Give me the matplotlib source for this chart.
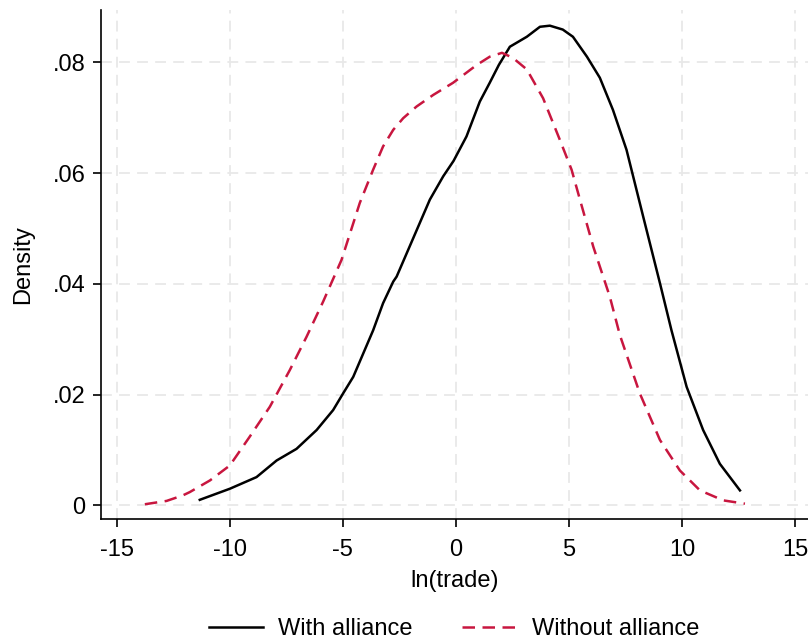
import matplotlib
matplotlib.use("Agg")
import numpy as np
from matplotlib import pyplot as plt

plt.rcParams['font.family'] = ['Liberation Sans', 'DejaVu Sans']
plt.rcParams['axes.unicode_minus'] = False

# kernel density curves
with_x = [-11.33, -10.0, -8.82, -7.93, -7.05, -6.16, -5.43, -4.99, -4.54, -4.10, -3.66,
          -3.22, -2.77, -2.62, -1.89, -1.15, -0.56, -0.1, 0.47, 1.06, 1.5, 1.9, 2.39,
          3.14, 3.72, 4.16, 4.73, 5.18, 5.8, 6.37, 6.95, 7.55, 8.29, 9.03, 9.54, 10.21,
          10.94, 11.68, 12.57]
with_y = [0.0010, 0.0030, 0.0051, 0.0081, 0.0102, 0.0136, 0.0172, 0.0202, 0.0232, 0.0274,
          0.0316, 0.0365, 0.0404, 0.0413, 0.0482, 0.0552, 0.0594, 0.0622, 0.0666, 0.0729,
          0.0763, 0.0795, 0.0828, 0.0846, 0.0864, 0.0866, 0.0859, 0.0846, 0.0810, 0.0772,
          0.0714, 0.0642, 0.0521, 0.0401, 0.0316, 0.0214, 0.0136, 0.0075, 0.0027]

without_x = [-13.76, -12.8, -12.08, -11.77, -10.88, -10.0, -9.12, -8.23, -7.35, -6.61,
             -5.87, -5.06, -4.25, -3.66, -3.22, -2.77, -2.33, -1.74, -1.0, -0.12, 0.92,
             1.5, 2.04, 2.52, 3.14, 3.86, 4.60, 5.12, 5.49, 6.08, 6.81, 7.26, 8.14, 9.03,
             9.91, 10.80, 11.83, 12.79]
without_y = [0.0002, 0.0008, 0.0018, 0.0024, 0.0045, 0.0072, 0.0124, 0.0178, 0.0244, 0.0304,
             0.0368, 0.0443, 0.0546, 0.0606, 0.0648, 0.0678, 0.0699, 0.0720, 0.0741, 0.0763,
             0.0795, 0.0810, 0.0817, 0.0808, 0.0787, 0.0735, 0.0660, 0.0606, 0.0552, 0.0467,
             0.0377, 0.0307, 0.0202, 0.0118, 0.0063, 0.0027, 0.0009, 0.0003]

xticks = [-15, -10, -5, 0, 5, 10, 15]
yticks = [0, 0.02, 0.04, 0.06, 0.08]
ytick_labels = ['0', '.02', '.04', '.06', '.08']

fig = plt.figure(figsize=(8.08, 6.41), dpi=100)
ax = fig.add_axes([0.125, 0.19, 0.875, 0.795])

ax.plot(with_x, with_y, color='black', lw=1.8, solid_joinstyle='round', label='With alliance')
ax.plot(without_x, without_y, color='#c8163f', lw=1.8, ls=(0, (5, 3)),
        dash_joinstyle='round', label='Without alliance')

ax.set_xlim(-15.7, 15.58)
ax.set_ylim(-0.0025, 0.0895)
ax.set_xticks(xticks)
ax.set_yticks(yticks)
ax.set_yticklabels(ytick_labels)
ax.tick_params(labelsize=17, length=6, width=1.2, pad=5)
ax.tick_params(axis='x', pad=8.5)
ax.grid(True, color='#e8e8e8', ls=(0, (6, 4)), lw=1.3)
ax.set_axisbelow(True)
for s in ['top', 'right']:
    ax.spines[s].set_visible(False)
for s in ['left', 'bottom']:
    ax.spines[s].set_linewidth(1.2)

ax.set_xlabel('ln(trade)', fontsize=17)
ax.set_ylabel('Density', fontsize=17)
ax.xaxis.set_label_coords(0.5, -0.1)
ax.yaxis.set_label_coords(-0.095, 0.5)

fig.legend(loc='center', bbox_to_anchor=(0.562, 0.018), ncol=2, frameon=False,
           fontsize=17, handlelength=2.3, handletextpad=0.65, columnspacing=2.1)

fig.savefig('out.png', dpi=100)
